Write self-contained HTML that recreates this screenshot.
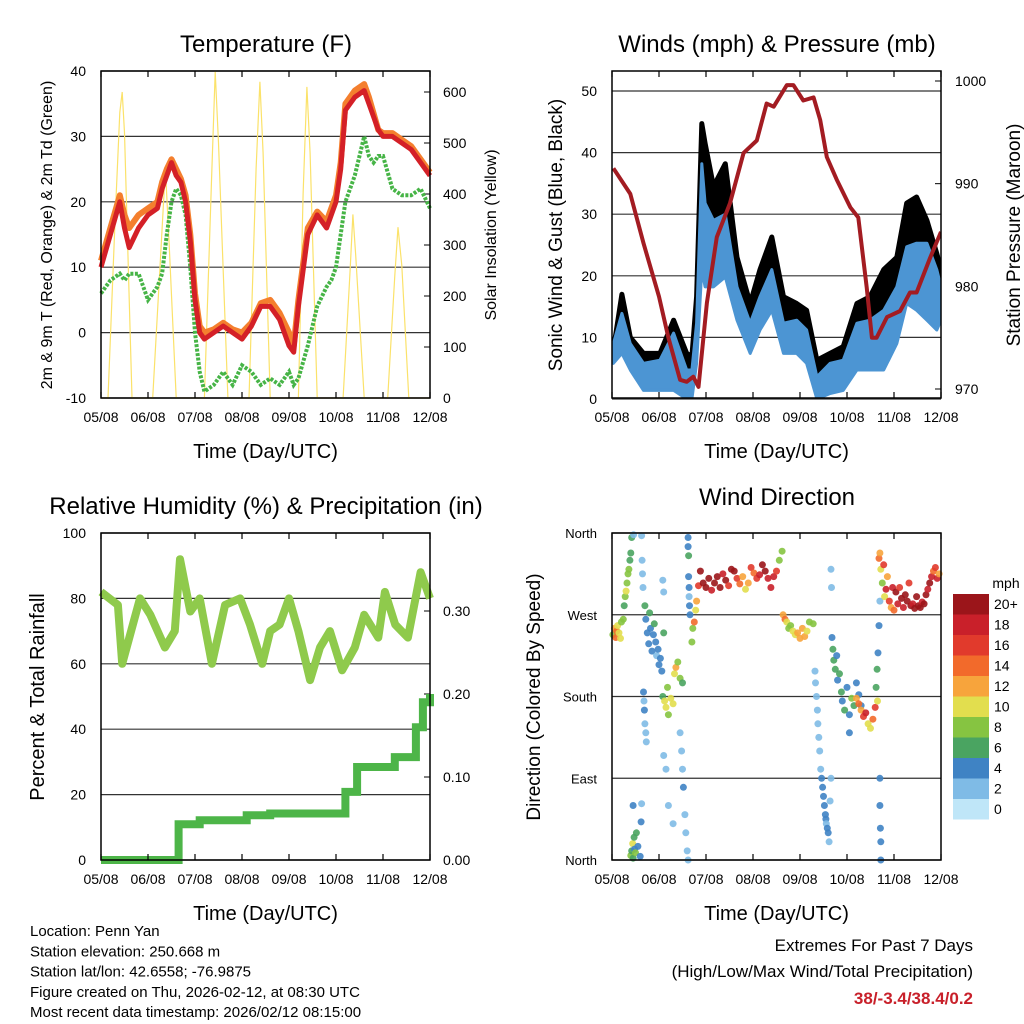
<!DOCTYPE html>
<html><head><meta charset="utf-8"><style>
html,body{margin:0;padding:0;background:#fff}
svg{display:block;font-family:"Liberation Sans",sans-serif}
</style></head><body>
<svg id="c" width="1024" height="1024" viewBox="0 0 1024 1024"></svg>
<script>
// ---- Temperature panel data ----
const tDays=[0,0.2,0.4,0.5,0.6,0.8,1.0,1.2,1.3,1.4,1.5,1.6,1.7,1.8,1.9,2.0,2.1,2.2,2.4,2.6,2.8,3.0,3.2,3.4,3.6,3.8,4.0,4.1,4.2,4.4,4.6,4.8,4.9,5.0,5.1,5.2,5.4,5.6,5.7,5.8,5.9,6.0,6.2,6.4,6.6,6.8,7.0];
const tRed=[10,15,20,16,13,16,18,19,22,24,26,24,23,20,14,5,0,-1,0,1,0,-1,1,4,4,2,-2,-3,4,15,18,16,18,20,25,34,36,37,35,33,31,30,30,29,28,26,24];
const tOrange=[11,16,21,18,16,18,19,20,23,25,26.5,25,23.5,21,15,6,1,0,0.5,1.5,0.5,0,1.5,4.5,5,3,0,-2,5,16,18.5,17,19,21,26,35,37,38,36,33.5,31,30.5,30.5,29.5,28.5,26.5,24.5];
const tDew=[6,8,9,8,9,9,5,7,9,15,20,22,21,18,10,0,-6,-9,-8,-6,-8,-5,-6,-8,-7,-8,-6,-8,-7,-2,4,7,8,10,15,20,24,30,27,26,27,27,22,21,21,22,19];
const solarDays=[0,0.15,0.3,0.4,0.45,0.5,0.66,1.1,1.25,1.37,1.45,1.6,2.2,2.35,2.43,2.5,2.7,3.15,3.3,3.38,3.45,3.6,4.2,4.3,4.38,4.45,4.6,5.15,5.3,5.36,5.42,5.6,6.1,6.25,6.32,6.4,6.55,7.0];
const solarVals=[0,0,350,560,600,520,0,0,250,450,300,0,0,420,640,500,0,0,450,620,480,0,0,400,610,480,0,0,250,360,280,0,0,240,335,260,0,0];
const xDayLabels=["05/08","06/08","07/08","08/08","09/08","10/08","11/08","12/08"];
const tTicks=[-10,0,10,20,30,40];
const solarTicks=[0,100,200,300,400,500,600];
// ---- Winds panel data ----
const windDays=[0.03,0.21,0.39,0.67,1.02,1.31,1.59,1.7,1.8,1.91,1.98,2.16,2.41,2.66,2.94,3.15,3.4,3.65,3.93,4.14,4.36,4.64,4.92,5.21,5.49,5.78,6.06,6.27,6.48,6.7,6.91,7.0];
const gustVals=[8,17,10,7.4,7.4,12.8,7.4,6.9,16.6,44.7,41.5,34.5,38.2,23,15.5,21,26.3,16.6,15.5,14.4,6.3,7.4,8.5,15.5,16.6,21,23,31.8,32.8,29,23.6,21];
const windVals=[9,13.9,9,5.8,6.3,10.7,4.7,4.7,12.3,38.2,31.8,29,30,18.2,12.3,16.6,21,12.3,12.8,11.2,3.6,5.8,6.3,12.3,12.8,14.4,18.2,24.7,25.3,25.3,21,18.2];
const windLowVals=[5.8,7.4,4.7,1.4,1.4,1.4,0,0,5.8,21,18.2,18.2,19.8,12.8,7.4,11.2,14.4,7.4,7.4,5.8,0,0.9,1.4,4.7,4.7,4.7,9,15.5,14.4,12.8,11.2,12.8];
const presDays=[0.03,0.39,0.67,1.0,1.2,1.45,1.59,1.73,1.84,2.02,2.23,2.51,2.8,3.08,3.29,3.44,3.72,3.86,4.07,4.29,4.43,4.57,4.78,5.07,5.24,5.42,5.53,5.63,5.85,6.13,6.34,6.48,6.77,7.0];
const presVals=[991.5,989,984.2,979,975,970.9,970.7,971.2,970.2,978.4,984.8,988.1,993,994.2,997.8,997.5,999.6,999.6,998.1,998.4,996.2,992.6,990.4,987.7,986.7,979.9,975,975,977,977.6,979.4,979.4,982.8,985.3];
const windTicks=[0,10,20,30,40,50];
const presTicks=[970,980,990,1000];
// ---- RH panel data ----
const rhDays=[0,0.36,0.45,0.83,1.05,1.36,1.57,1.68,1.9,2.1,2.36,2.64,2.96,3.17,3.43,3.6,3.8,4.0,4.2,4.45,4.66,4.87,5.13,5.4,5.6,5.9,6.04,6.26,6.53,6.8,7.0];
const rhVals=[82,78,60,80,75,65,70,92,76,80,60,78,80,72,60,70,72,80,70,55,65,70,58,65,75,68,82,72,68,88,80];
const rainDays=[0,1.6,1.65,2.1,3.1,3.6,5.15,5.2,5.45,6.2,6.25,6.7,6.85,7.0];
const rainVals=[0,0,0.043,0.048,0.054,0.056,0.056,0.082,0.112,0.112,0.124,0.16,0.19,0.2];
const rhTicks=[0,20,40,60,80,100];
const rainTicks=[0,0.1,0.2,0.3];
// ---- Wind direction data ----
const dirDays=[0.02,0.05,0.08,0.1,0.12,0.15,0.18,0.2,
0.24,0.26,0.28,0.3,0.32,0.34,0.36,0.38,0.4,0.42,
0.4,0.42,0.44,0.45,0.47,0.48,0.5,0.52,0.55,0.6,
0.46,0.63,0.45,0.63,0.62,
0.7,0.72,0.75,0.78,0.8,0.82,0.85,0.88,0.9,0.93,0.95,0.98,1.0,1.03,1.06,1.1,
0.64,0.65,0.66,1.08,1.1,
0.67,0.68,0.69,0.7,0.72,0.73,
1.08,1.12,1.15,1.18,1.2,1.25,1.3,1.33,1.36,1.4,1.45,1.5,
1.1,1.15,1.2,1.3,1.45,1.48,1.5,1.52,1.55,1.57,1.6,1.62,
1.62,1.62,1.63,1.63,1.64,1.64,1.65,1.66,
1.7,1.72,1.75,1.78,1.8,1.84,
1.88,1.94,2.0,2.06,2.12,2.18,2.24,2.3,2.36,2.42,2.48,2.54,2.6,2.66,2.72,2.78,2.84,2.9,2.96,3.02,3.08,3.14,3.2,3.26,3.32,3.38,3.44,3.5,3.56,3.62,
3.64,3.68,3.72,3.76,3.8,3.85,3.9,3.95,4.0,4.05,4.1,4.15,4.2,4.28,
4.32,4.33,4.35,4.37,4.38,4.4,4.42,4.44,4.46,4.48,4.5,4.52,4.54,4.55,4.56,4.58,4.6,4.62,4.64,4.66,4.66,4.67,
4.68,4.7,4.72,4.75,4.78,4.8,4.84,4.88,4.9,4.95,5.0,5.05,5.1,5.15,5.2,5.25,5.3,5.05,
5.2,5.25,5.3,5.35,5.4,5.45,5.5,5.55,5.6,5.65,
5.62,5.64,5.66,5.68,5.7,5.7,5.7,5.71,5.72,5.72,
5.68,5.7,5.72,5.75,5.78,5.8,5.83,5.86,5.9,5.94,5.97,6.0,
6.04,6.08,6.12,6.16,6.2,6.24,6.28,6.32,6.36,6.4,6.44,6.48,6.52,6.56,6.6,6.64,6.68,6.72,6.76,6.8,6.84,6.88,6.92,6.96];
const dirDeg=[248,255,245,252,258,250,244,262,
265,280,290,296,305,315,320,330,338,355,
5,10,18,2,25,12,8,30,15,4,
358,357,60,62,42,
280,265,250,238,272,255,230,248,260,240,225,232,215,222,208,250,
330,315,300,308,295,
185,175,165,150,140,130,
180,175,168,190,160,178,172,205,212,218,200,195,
115,100,60,40,140,120,100,80,50,30,10,0,
355,345,335,312,300,290,280,270,
240,255,262,275,285,302,
318,305,300,310,297,305,312,300,315,308,302,320,318,310,304,312,298,305,322,316,310,314,325,318,310,300,312,318,330,340,
270,265,262,255,258,252,248,250,244,255,246,252,262,260,
208,195,180,165,150,135,120,100,90,80,70,60,50,45,40,35,30,20,65,90,320,300,
245,232,220,210,225,198,205,185,175,165,190,160,178,170,195,182,170,140,
178,172,165,158,162,150,145,155,168,175,
190,210,228,258,285,90,60,35,20,0,
332,338,320,305,325,290,298,312,285,278,300,275,
295,282,300,288,278,292,285,305,280,282,277,290,280,278,284,282,292,298,305,312,318,322,310,315];
const dirSpd=[7,12,14,13,10,9,10,8,
8,6,8,9,7,8,7,6,6,5,
7,6,9,5,6,4,7,5,3,4,
2,1,3,1,3,
6,4,3,4,5,3,3,4,6,3,2,4,3,4,3,5,
1,1,1,1,1,
3,2,4,2,1,2,
6,9,10,8,7,10,9,9,11,8,7,6,
1,1,2,1,2,1,2,3,1,2,2,1,
3,3,5,3,4,2,3,4,
7,8,14,10,12,16,
20,20,20,20,18,20,19,20,18,20,16,19,20,16,14,12,10,12,15,14,16,18,19,20,18,17,18,16,8,7,
12,13,10,8,7,9,10,11,12,12,11,10,8,7,
2,1,1,1,1,1,1,2,3,4,3,4,3,4,2,3,4,2,1,1,1,1,
4,6,5,6,4,3,5,6,4,5,3,4,8,6,4,3,4,3,
12,14,11,16,17,10,9,14,16,9,
6,5,4,3,2,3,3,4,4,3,
14,12,10,8,15,9,18,12,16,12,18,14,
20,18,16,20,17,19,20,15,20,18,20,19,20,20,18,20,20,18,20,17,14,16,18,12];
const dirTicks=[0,90,180,270,360];
const dirLabels=["North","East","South","West","North"];
const cbLabels=["0","2","4","6","8","10","12","14","16","18","20+"];
const cbColors=["#bfe6f8","#7fbbe6","#3f83c4","#4aa461","#86c441","#e2de4e","#f7a43c","#f26a2b","#e13a2c","#c9202a","#9b151a"];

const NS="http://www.w3.org/2000/svg";
const svg=document.getElementById('c');
function mk(tag,attrs,parent){const e=document.createElementNS(NS,tag);for(const k in attrs)e.setAttribute(k,attrs[k]);(parent||svg).appendChild(e);return e;}
function txt(s,x,y,size,anchor,parent,extra){const t=mk('text',Object.assign({x:x,y:y,'font-size':size,'text-anchor':anchor||'middle',fill:'#000'},extra||{}),parent);t.textContent=s;return t;}
function lin(a0,a1,b0,b1){return v=>b0+(v-a0)*(b1-b0)/(a1-a0);}

function panel(name){
  const g=mk('g',{});
  
  
  return g;
}
function frame(g,L,T,R,B,xs){
  const r=mk('rect',{x:L,y:T,width:R-L,height:B-T,fill:'none',stroke:'#000','stroke-width':1.5},g);
  
  
  xDayLabels.forEach((s,i)=>{
    const x=xs(i);
    mk('line',{x1:x,y1:B,x2:x,y2:B-6,stroke:'#000','stroke-width':1.2},g);
    mk('line',{x1:x,y1:T,x2:x,y2:T+6,stroke:'#000','stroke-width':1.2},g);
    const t=txt(s,x,B+24,14,'middle',g);
    
    
  });
  const xl=txt('Time (Day/UTC)',(L+R)/2,B+60,20,'middle',g);
  
  
}
function grid(g,L,R,y){mk('line',{x1:L,y1:y,x2:R,y2:y,stroke:'#333','stroke-width':1.2},g);}
function pts(xa,ya,xs,ys){return xa.map((d,i)=>xs(d).toFixed(1)+','+ys(ya[i]).toFixed(1)).join(' ');}

// ===== Panel 1 Temperature =====
(function(){
  const L=101,T=71,R=430,B=398;
  const g=panel('temperature-panel');
  const xs=lin(0,7,L,R), ys=lin(-10,40,B,T), ss=lin(0,100,398,347);
  tTicks.forEach(v=>{grid(g,L,R,ys(v));const t=txt(String(v),86,ys(v)+5,14,'end',g);});
  solarTicks.forEach(v=>{mk('line',{x1:R,y1:ss(v),x2:R-6,y2:ss(v),stroke:'#000'},g);const t=txt(String(v),443,ss(v)+5,14,'start',g);});
  const sol=mk('polyline',{points:pts(solarDays,solarVals,xs,ss),fill:'none',stroke:'#fbe26a','stroke-width':1.2},g);
  
  
  const dew=mk('polyline',{points:pts(tDays,tDew,xs,ys),fill:'none',stroke:'#46b446','stroke-width':4,'stroke-dasharray':'3 1.5'},g);
  
  
  const or=mk('polyline',{points:pts(tDays,tOrange,xs,ys),fill:'none',stroke:'#f47f2e','stroke-width':6,'stroke-linejoin':'round'},g);
  
  
  const rd=mk('polyline',{points:pts(tDays,tRed,xs,ys),fill:'none',stroke:'#d42027','stroke-width':5,'stroke-linejoin':'round'},g);
  
  
  frame(g,L,T,R,B,i=>xs(i));
  const tt=txt('Temperature (F)',266,52,24,'middle',g);
  
  
  const yl=txt('2m & 9m T (Red, Orange) & 2m Td (Green)',0,0,16,'middle',g,{transform:'translate(52,235) rotate(-90)'});
  
  
  const yr=txt('Solar Insolation (Yellow)',0,0,16,'middle',g,{transform:'translate(496,235) rotate(-90)'});
  
  
})();

// ===== Panel 2 Winds =====
(function(){
  const L=612,T=71,R=941,B=398;
  const g=panel('winds-panel');
  const xs=lin(0,7,L,R), ys=lin(0,50,399,91), ps=lin(970,1000,389,81);
  windTicks.forEach(v=>{grid(g,L,R,ys(v));const t=txt(String(v),597,ys(v)+5,14,'end',g);});
  presTicks.forEach(v=>{mk('line',{x1:R,y1:ps(v),x2:R-6,y2:ps(v),stroke:'#000'},g);const t=txt(String(v),955,ps(v)+5,14,'start',g);});
  const cp=mk('clipPath',{id:'wclip'},g);
  mk('rect',{x:L,y:T,width:R-L,height:B-T},cp);
  const inner=mk('g',{'clip-path':'url(#wclip)'},g);
  const gp=pts(windDays,gustVals,xs,ys)+' '+pts(windDays.slice().reverse(),windVals.slice().reverse(),xs,ys);
  const gu=mk('polygon',{points:gp,fill:'#000',stroke:'#000','stroke-width':5,'stroke-linejoin':'round'},inner);
  
  
  const wp=pts(windDays,windVals,xs,ys)+' '+pts(windDays.slice().reverse(),windLowVals.slice().reverse(),xs,ys);
  const wi=mk('polygon',{points:wp,fill:'#4c95d3',stroke:'#4c95d3','stroke-width':3,'stroke-linejoin':'round'},inner);
  
  
  const pr=mk('polyline',{points:pts(presDays,presVals,xs,ps),fill:'none',stroke:'#a31c22','stroke-width':4,'stroke-linejoin':'round'},inner);
  
  
  frame(g,L,T,R,B,i=>xs(i));
  const tt=txt('Winds (mph) & Pressure (mb)',777,52,24,'middle',g);
  
  
  const yl=txt('Sonic Wind & Gust (Blue, Black)',0,0,19,'middle',g,{transform:'translate(562,235) rotate(-90)'});
  
  
  const yr=txt('Station Pressure (Maroon)',0,0,19,'middle',g,{transform:'translate(1020,235) rotate(-90)'});
  
  
})();

// ===== Panel 3 RH =====
(function(){
  const L=101,T=533,R=430,B=860;
  const g=panel('humidity-panel');
  const xs=lin(0,7,L,R), ys=lin(0,100,B,T), rs=lin(0,0.1,860,777);
  rhTicks.forEach(v=>{grid(g,L,R,ys(v));const t=txt(String(v),86,ys(v)+5,14,'end',g);});
  rainTicks.forEach(v=>{mk('line',{x1:R,y1:rs(v),x2:R-6,y2:rs(v),stroke:'#000'},g);const t=txt(v.toFixed(2),443,rs(v)+5,14,'start',g);});
  const rh=mk('polyline',{points:pts(rhDays,rhVals,xs,ys),fill:'none',stroke:'#8fca4c','stroke-width':8,'stroke-linejoin':'round'},g);
  
  
  let sp=[];rainDays.forEach((d,i)=>{if(i>0)sp.push(xs(d).toFixed(1)+','+rs(rainVals[i-1]).toFixed(1));sp.push(xs(d).toFixed(1)+','+rs(rainVals[i]).toFixed(1));});
  const rn=mk('polyline',{points:sp.join(' '),fill:'none',stroke:'#4db548','stroke-width':8},g);
  
  
  frame(g,L,T,R,B,i=>xs(i));
  const tt=txt('Relative Humidity (%) & Precipitation (in)',266,514,24,'middle',g);
  
  
  const yl=txt('Percent & Total Rainfall',0,0,20,'middle',g,{transform:'translate(44,697) rotate(-90)'});
  
  
})();

// ===== Panel 4 Wind direction =====
(function(){
  const L=612,T=533,R=941,B=860;
  const g=panel('wind-direction-panel');
  const xs=lin(0,7,L,R), ys=lin(0,360,B,T);
  dirTicks.forEach((v,i)=>{grid(g,L,R,ys(v));const t=txt(dirLabels[i],597,ys(v)+5,13,'end',g);});
  const cg=mk('g',{},g);
  
  
  dirDays.forEach((d,i)=>{
    const ci=Math.min(10,Math.round(dirSpd[i]/2));
    const c=mk('circle',{cx:xs(d).toFixed(1),cy:ys(dirDeg[i]).toFixed(1),r:3.5,fill:cbColors[ci],'fill-opacity':0.9},cg);
    
    
  });
  frame(g,L,T,R,B,i=>xs(i));
  const tt=txt('Wind Direction',777,505,24,'middle',g);
  
  
  const yl=txt('Direction (Colored By Speed)',0,0,19,'middle',g,{transform:'translate(540,697) rotate(-90)'});
  
  
  const lg=mk('g',{},g);
  
  
  const ml=txt('mph',1006,588,14,'middle',lg);
  
  
  cbLabels.forEach((s,i)=>{
    const y=799-i*20.5;
    mk('rect',{x:953,y:y,width:36,height:20.5,fill:cbColors[i]},lg);
    const t=txt(s,994,y+15,14,'start',lg);
    
    
  });
})();

// ===== Footer text =====
const info=["Location: Penn Yan","Station elevation: 250.668 m","Station lat/lon: 42.6558; -76.9875","Figure created on Thu, 2026-02-12, at 08:30 UTC","Most recent data timestamp: 2026/02/12 08:15:00"];
info.forEach((s,i)=>{const t=txt(s,30,936+i*20.3,15,'start');});
const e1=txt('Extremes For Past 7 Days',973,951,17,'end');


const e2=txt('(High/Low/Max Wind/Total Precipitation)',973,977,17,'end');


const e3=txt('38/-3.4/38.4/0.2',973,1004,17,'end',null,{fill:'#c8202a','font-weight':'bold'});


</script>
</body></html>
